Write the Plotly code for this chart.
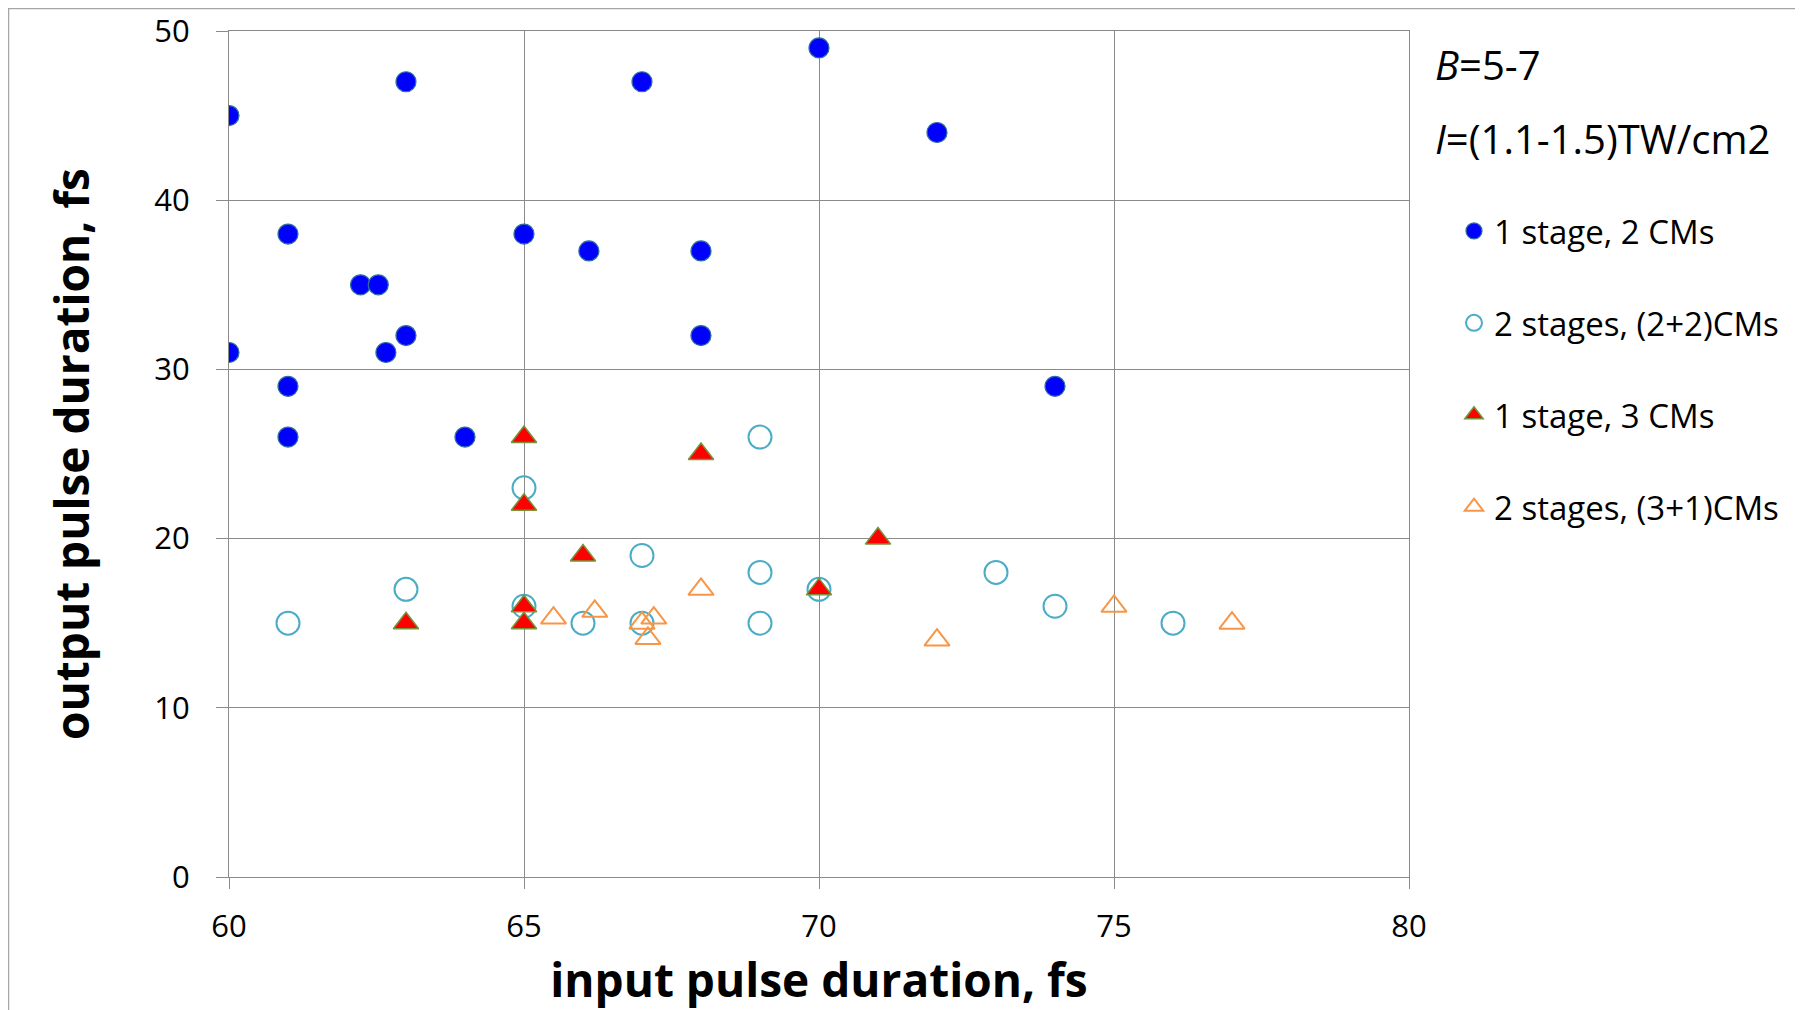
import plotly.graph_objects as go

# ---- data ----
s1_2cm_x = [60, 61, 63, 60, 61, 61, 62.23, 62.53, 62.66, 63, 64, 65, 66.1, 67, 68, 68, 70, 72, 74]
s1_2cm_y = [45, 38, 47, 31, 29, 26, 35, 35, 31, 32, 26, 38, 37, 47, 37, 32, 49, 44, 29]

s2_22cm_x = [61, 63, 65, 65, 66, 67, 67, 69, 69, 69, 70, 73, 74, 76]
s2_22cm_y = [15, 17, 23, 16, 15, 19, 15, 26, 18, 15, 17, 18, 16, 15]

s1_3cm_x = [63, 65, 65, 65, 65, 66, 68, 70, 71]
s1_3cm_y = [15, 26, 22, 16, 15, 19, 25, 17, 20]

s2_31cm_x = [65.5, 66.2, 67, 67.1, 67.2, 68, 72, 75, 77]
s2_31cm_y = [15.3, 15.7, 15.0, 14.1, 15.3, 17, 14, 16, 15]

names = ["1 stage, 2 CMs", "2 stages, (2+2)CMs", "1 stage, 3 CMs", "2 stages, (3+1)CMs"]
x_ticks = [60, 65, 70, 75, 80]
y_ticks = [0, 10, 20, 30, 40, 50]

FONT = "Open Sans"
GRID = "#8a8a8a"

fig = go.Figure()
fig.add_trace(go.Scatter(
    x=s1_2cm_x, y=s1_2cm_y, mode="markers", name=names[0], legendgroup="a",
    marker=dict(symbol="circle", size=20, color="#0000ff",
                line=dict(color="#2f6fa0", width=1.2))))
fig.add_trace(go.Scatter(
    x=s2_22cm_x, y=s2_22cm_y, mode="markers", name=names[1], legendgroup="b",
    marker=dict(symbol="circle-open", size=23, color="#4bacc6",
                line=dict(color="#4bacc6", width=2))))
fig.add_trace(go.Scatter(
    x=s1_3cm_x, y=s1_3cm_y, mode="markers", name=names[2], legendgroup="c",
    marker=dict(symbol="triangle-up", size=22, color="#ff0000",
                line=dict(color="#77933c", width=1.5))))
fig.add_trace(go.Scatter(
    x=s2_31cm_x, y=s2_31cm_y, mode="markers", name=names[3], legendgroup="d",
    marker=dict(symbol="triangle-up-open", size=22, color="#f79646",
                line=dict(color="#f79646", width=2))))

# figure-pixel geometry (page is offset by the 8px body margin)
W, H = 1795, 1002
L, R, T, B = 221, 1401, 23, 869
pw, ph = R - L, B - T

def px_x(p):
    return (p - L) / pw

def px_y(p):
    return (B - p) / ph

fig.update_layout(
    width=W, height=H,
    margin=dict(l=L, r=W - R, t=T, b=H - B, autoexpand=False),
    paper_bgcolor="white", plot_bgcolor="white",
    font=dict(family=FONT, color="black"),
    showlegend=True,
    legend=dict(x=px_x(1446), y=px_y(195), xanchor="left", yanchor="top",
                font=dict(size=33, family=FONT), tracegroupgap=46,
                bgcolor="rgba(0,0,0,0)"),
    xaxis=dict(range=[60, 80], tickvals=x_ticks, ticktext=[str(v) for v in x_ticks],
               showgrid=True, gridcolor=GRID, gridwidth=1,
               showline=True, linecolor=GRID, linewidth=1, mirror=True,
               ticks="outside", ticklen=11, tickcolor=GRID,
               tickfont=dict(size=31, family=FONT), ticklabelstandoff=11,
               zeroline=False,
               title=dict(text="<b>input pulse duration, fs</b>",
                          font=dict(size=46, family=FONT), standoff=22)),
    yaxis=dict(range=[0, 50], tickvals=y_ticks, ticktext=[str(v) for v in y_ticks],
               showgrid=True, gridcolor=GRID, gridwidth=1,
               showline=True, linecolor=GRID, linewidth=1, mirror=True,
               ticks="outside", ticklen=12, tickcolor=GRID,
               tickfont=dict(size=31, family=FONT), ticklabelstandoff=20,
               zeroline=False,
               title=dict(text="<b>output pulse duration, fs</b>",
                          font=dict(size=46, family=FONT), standoff=50)),
    shapes=[
        dict(type="line", xref="paper", yref="paper",
             x0=px_x(0), x1=px_x(W + 10), y0=px_y(0.5), y1=px_y(0.5),
             line=dict(color="#a6a6a6", width=1.5)),
        dict(type="line", xref="paper", yref="paper",
             x0=px_x(0.5), x1=px_x(0.5), y0=px_y(0), y1=px_y(H + 10),
             line=dict(color="#a6a6a6", width=1.5)),
    ],
    annotations=[
        dict(text="<i>B</i>=5-7", xref="paper", yref="paper",
             x=px_x(1425), y=px_y(57), xanchor="left", yanchor="middle",
             showarrow=False, font=dict(size=40, family=FONT)),
        dict(text="<i>I</i>=(1.1-1.5)TW/cm2", xref="paper", yref="paper",
             x=px_x(1425), y=px_y(130), xanchor="left", yanchor="middle",
             showarrow=False, font=dict(size=40, family=FONT)),
    ],
)

fig.write_html("out.html")
